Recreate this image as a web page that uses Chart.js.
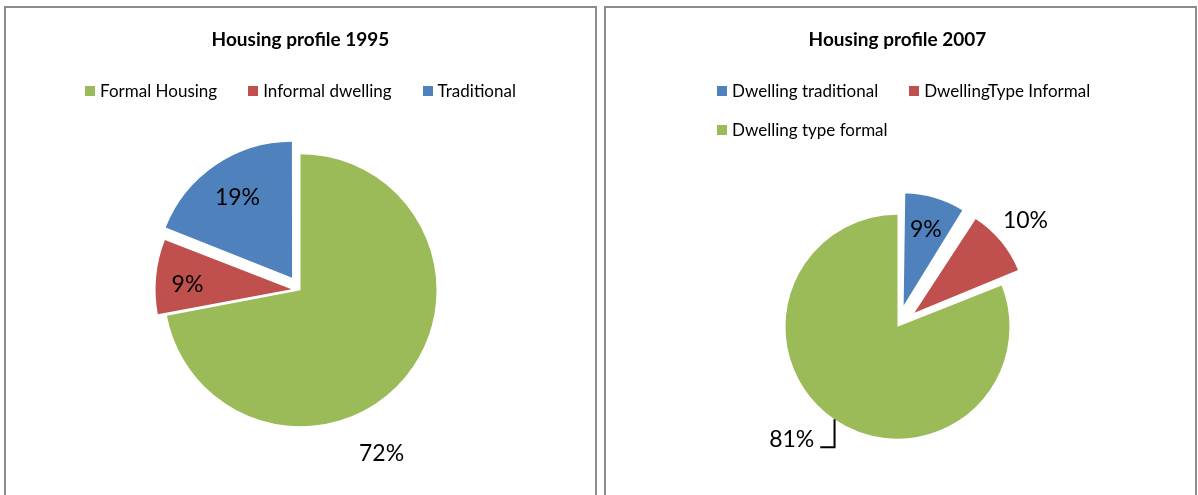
<!DOCTYPE html>
<html>
<head>
<meta charset="utf-8">
<script src="https://cdn.jsdelivr.net/npm/chart.js@4"></script>
<style>
  body { margin: 0; background: #fff; font-family: Lato, sans-serif; }
  .panel { position: absolute; top: 6px; width: 593px; height: 530px; box-sizing: border-box;
           border: 2px solid #8c8c8c; background: #fff; overflow: hidden; }
  .panel canvas { position: absolute; left: 0; top: 0; }
  .legend { position: absolute; display: flex; flex-wrap: wrap; column-gap: 31px; row-gap: 19px;
            font-size: 17px; line-height: 20px; color: #000; }
  .legend .item { display: flex; align-items: center; white-space: nowrap; }
  .legend .item i { display: inline-block; width: 10px; height: 10px; margin-right: 5px; }
  #legend1995 { left: 0; top: 73px; width: 589px; justify-content: center; }
  #legend2007 { left: 111px; top: 73px; width: 420px; }
</style>
</head>
<body>
<div class="panel" style="left:4px">
  <canvas id="chart1995" width="589" height="510"></canvas>
  <div class="legend" id="legend1995"></div>
</div>
<div class="panel" style="left:604px">
  <canvas id="chart2007" width="589" height="510"></canvas>
  <div class="legend" id="legend2007"></div>
</div>
<script>
// =========================
// Data
// =========================
const labels1995 = ['Formal Housing', 'Informal dwelling', 'Traditional'];
const values1995 = [72, 9, 19];
const colors1995 = ['#9BBB59', '#C0504D', '#4F81BD'];

const labels2007 = ['Dwelling traditional', 'DwellingType Informal', 'Dwelling type formal'];
const values2007 = [9, 10, 81];
const colors2007 = ['#4F81BD', '#C0504D', '#9BBB59'];

// =========================
// Legend (html, Excel style wrapping)
// =========================
function buildLegend(el, labels, colors) {
    labels.forEach((text, i) => {
        const item = document.createElement('span');
        item.className = 'item';
        const box = document.createElement('i');
        box.style.background = colors[i];
        item.append(box, text);
        el.appendChild(item);
    });
}
buildLegend(document.getElementById('legend1995'), labels1995, colors1995);
buildLegend(document.getElementById('legend2007'), labels2007, colors2007);

// =========================
// Percent labels on the slices
// =========================
const sliceLabels = {
    id: 'sliceLabels',
    afterDatasetsUpdate(chart) {
        // chart.js grows exploded slices a bit, keep them same radius as the rest
        chart.getDatasetMeta(0).data.forEach(arc => {
            const shift = (arc.options.offset || 0) / 4;
            arc.outerRadius -= shift * (1 - Math.sin(Math.min(Math.PI, arc.circumference)));
        });
    },
    afterDatasetsDraw(chart, args, opts) {
        const ctx = chart.ctx;
        const values = chart.data.datasets[0].data;
        const total = values.reduce((a, b) => a + b, 0);
        ctx.save();
        ctx.font = '23px Lato';
        ctx.fillStyle = '#000';
        ctx.strokeStyle = '#000';
        ctx.lineWidth = 2;
        ctx.textAlign = 'center';
        ctx.textBaseline = 'middle';
        chart.getDatasetMeta(0).data.forEach((arc, i) => {
            const place = opts.places[i];
            const mid = (arc.startAngle + arc.endAngle) / 2;
            const shift = (arc.options.offset || 0) / 4;
            const cx = arc.x + Math.cos(mid) * shift;
            const cy = arc.y + Math.sin(mid) * shift;
            const r = arc.outerRadius;
            const a = mid + place.turn * Math.PI / 180;
            const x = cx + Math.cos(a) * r * place.dist;
            const y = cy + Math.sin(a) * r * place.dist;
            const text = Math.round(values[i] / total * 100) + '%';
            ctx.fillText(text, x, y);
            if (place.leader) {
                const ex = cx + Math.cos(mid) * r;
                const ey = cy + Math.sin(mid) * r;
                const ly = y + 8;
                ctx.beginPath();
                ctx.moveTo(ex, ey);
                ctx.lineTo(ex, ly);
                ctx.lineTo(x + ctx.measureText(text).width / 2 + 6, ly);
                ctx.stroke();
            }
        });
        ctx.restore();
    }
};

function makePie(id, title, labels, values, colors, opt) {
    return new Chart(document.getElementById(id), {
        type: 'pie',
        data: {
            labels: labels,
            datasets: [{
                data: values,
                backgroundColor: colors,
                borderWidth: 0,
                offset: opt.offset,
                radius: opt.radius
            }]
        },
        options: {
            responsive: false,
            animation: false,
            events: [],
            layout: { padding: opt.padding },
            plugins: {
                legend: { display: false },
                tooltip: { enabled: false },
                title: {
                    display: true,
                    text: title,
                    color: '#000',
                    font: { family: 'Lato', size: 19, weight: 'bold' },
                    padding: { top: 20.6, bottom: opt.titleGap }
                },
                sliceLabels: { places: opt.places }
            }
        },
        plugins: [sliceLabels]
    });
}

// =========================
// Charts
// =========================
makePie('chart1995', 'Housing profile 1995', labels1995, values1995, colors1995, {
    offset: [0, 36, 60],
    radius: 136,
    titleGap: 56,
    padding: { bottom: 45 },
    places: [{ dist: 1.34, turn: 24 }, { dist: 0.79, turn: -3 }, { dist: 0.72, turn: 0 }]
});

makePie('chart2007', 'Housing profile 2007', labels2007, values2007, colors2007, {
    offset: [88, 88, 0],
    radius: 112,
    titleGap: 96,
    padding: { bottom: 12, right: 6 },
    places: [{ dist: 0.78, turn: 0 }, { dist: 1.4, turn: 0 }, { dist: 1.38, turn: 9, leader: true }]
});
</script>
</body>
</html>
